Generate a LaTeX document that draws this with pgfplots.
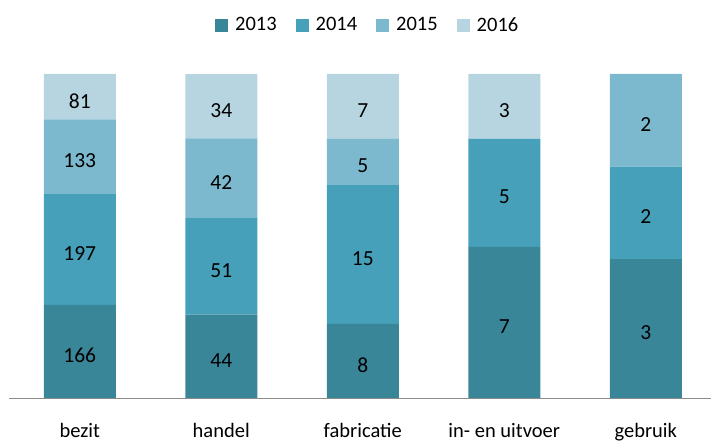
\documentclass[border=0pt]{standalone}
\usepackage{fontspec}
\setmainfont{Carlito}
\usepackage{pgfplots}
\usepackage{pgfplotstable}
\pgfplotsset{compat=1.18}

\definecolor{c13}{RGB}{58,134,153}
\definecolor{c14}{RGB}{71,160,185}
\definecolor{c15}{RGB}{125,185,206}
\definecolor{c16}{RGB}{182,213,224}
\newcommand\fs{\fontsize{20.5bp}{24bp}\selectfont}
\newcommand\fl{\fontsize{21.5bp}{24bp}\selectfont}

% shares per category (percent of the category total)
\pgfplotstableread{
x p13   p14   p15   p16
0 28.77 34.14 23.05 14.04
1 25.73 29.82 24.56 19.88
2 22.86 42.86 14.29 20.00
3 46.67 33.33 0.00  20.00
4 42.86 28.57 28.57 0.00
}\shares

\begin{document}
\begin{tikzpicture}
\path[use as bounding box] (0bp,0bp) rectangle (711bp,443bp);
\pgfplotsset{common/.style={
  scale only axis, width=707.5bp, height=324bp,
  xmin=-0.5, xmax=4.5, ymin=0, ymax=100,
  at={(9bp,45bp)}, anchor=south west}}

\begin{axis}[common,
  ybar stacked, bar width=72bp,
  axis x line*=bottom, axis y line=none,
  x axis line style={draw=black!45, line width=0.8bp},
  xtick={0,...,4},
  xticklabels={bezit,handel,fabricatie,in- en uitvoer,gebruik},
  xtick style={draw=none},
  xticklabel style={anchor=base, inner sep=0pt, yshift=-39bp, font=\fs},
  legend style={at={(0.507,1.151)}, anchor=center, draw=none, fill=none,
    legend columns=4, font=\fs,
    /tikz/every odd column/.append style={column sep=5bp},
    /tikz/every even column/.append style={column sep=17bp}},
  legend image code/.code={\path[#1,draw=none] (0bp,-6.5bp) rectangle (13bp,6.5bp);}
]
\addplot[fill=c13, draw=none] table[x=x,y=p13]{\shares};
\addlegendentry{2013}
\addplot[fill=c14, draw=none] table[x=x,y=p14]{\shares};
\addlegendentry{2014}
\addplot[fill=c15, draw=none] table[x=x,y=p15]{\shares};
\addlegendentry{2015}
\addplot[fill=c16, draw=none] table[x=x,y=p16]{\shares};
\addlegendentry{2016}
\end{axis}

% value labels at the middle of each segment
\begin{axis}[common, hide axis,
  nodes near coords, point meta=explicit symbolic,
  every node near coord/.append style={anchor=center, yshift=-4bp, font=\fl, text=black}]
\addplot[draw=none, mark=none] coordinates {
  (0,14.38) [166] (0,45.84) [197] (0,74.44) [133] (0,92.98) [81]
  (1,12.87) [44]  (1,40.64) [51]  (1,67.83) [42]  (1,90.06) [34]
  (2,11.43) [8]   (2,44.29) [15]  (2,72.86) [5]   (2,90.00) [7]
  (3,23.33) [7]   (3,63.33) [5]   (3,90.00) [3]
  (4,21.43) [3]   (4,57.14) [2]   (4,85.71) [2]
};
\end{axis}
\end{tikzpicture}
\end{document}
